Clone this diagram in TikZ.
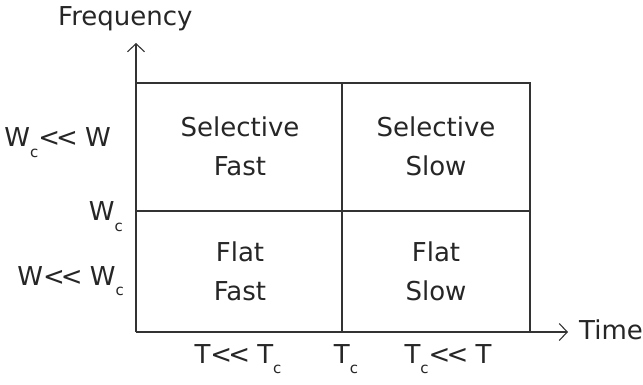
\documentclass[tikz,border=0pt]{standalone}
\usepackage{fontspec}
\setmainfont[Ligatures=NoCommon]{DejaVu Sans}
\usetikzlibrary{arrows.meta}
\newcommand\subc{\raisebox{-10pt}{\fontsize{15}{15}\selectfont c}}
\newcommand\llt{<\kern-4pt<\kern-1pt}
\tikzset{
  lbl/.style={font=\fontsize{26}{26}\selectfont, inner sep=0pt, anchor=base west, text=black!85},
  lblr/.style={lbl, anchor=base east},
  lblc/.style={lbl, anchor=base},
  cell/.style={font=\fontsize{26}{26}\selectfont, inner sep=0pt, anchor=base, text=black!85},
  gridline/.style={line width=1.4pt, draw=black!80},
  axis/.style={line width=1.4pt, draw=black!80, -{Straight Barb[length=8pt,width=17pt,line width=1.1pt]}}
}
\begin{document}
\begin{tikzpicture}[x=1pt,y=-1pt]
\useasboundingbox (0,0) rectangle (643,385);
\coordinate (O) at (136,332);
\coordinate (ytip) at (136,43);
\coordinate (xtip) at (568,332);
\coordinate (TL) at (136,83);
\coordinate (TR) at (530,83);
\coordinate (BR) at (530,332);
\coordinate (MT) at (342,83);
\coordinate (MB) at (342,332);
\coordinate (ML) at (136,211);
\coordinate (MR) at (530,211);
% box
\draw[gridline] (TL) -- (TR) -- (BR);
\draw[gridline] (MT) -- (MB);
\draw[gridline] (ML) -- (MR);
% axes
\draw[axis] (O) -- (ytip);
\draw[axis] (O) -- (xtip);
% axis titles
\node[lbl] (freq) at (58,26) {Frequency};
\node[lbl] (time) at (579,339) {Time};
% cell texts
\node[cell] (c1a) at (240,137) {Selective};
\node[cell] (c1b) at (240,176) {Fast};
\node[cell] (c2a) at (436,137) {Selective};
\node[cell] (c2b) at (436,176) {Slow};
\node[cell] (c3a) at (240,261) {Flat};
\node[cell] (c3b) at (240,300) {Fast};
\node[cell] (c4a) at (436,261) {Flat};
\node[cell] (c4b) at (436,300) {Slow};
% frequency labels
\node[lblr] (wa) at (111,147) {W\subc\llt{} W};
\node[lblr] (wb) at (123,221) {W\subc};
\node[lblr] (wc) at (124,285) {W\llt{} W\subc};
% time labels
\node[lblc] (ta) at (238,363) {T\llt{} T\subc};
\node[lblc] (tb) at (346,363) {T\subc};
\node[lblc] (tc) at (448,363) {T\subc\llt{} T};
\end{tikzpicture}
\end{document}
